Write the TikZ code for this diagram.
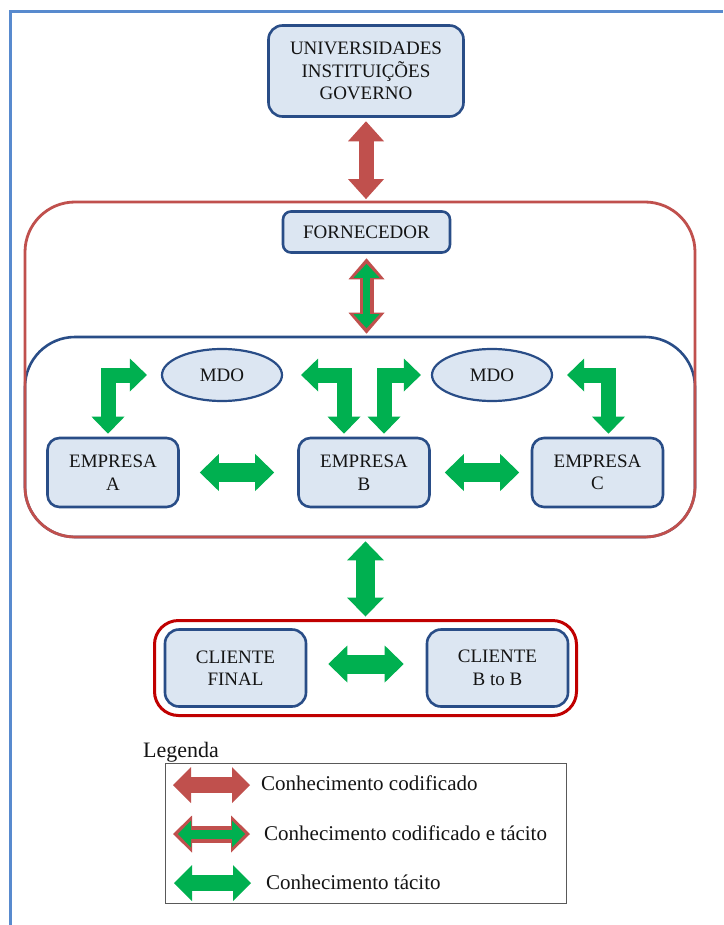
\documentclass[tikz,border=0pt]{standalone}
\usepackage{fontspec}
\setmainfont{Liberation Serif}
\usetikzlibrary{arrows.meta,shapes.geometric,calc}

\definecolor{boxfill}{RGB}{220,230,242}
\definecolor{boxline}{RGB}{41,77,135}
\definecolor{chainred}{RGB}{192,80,77}
\definecolor{clientred}{RGB}{192,0,0}
\definecolor{tacitgreen}{RGB}{0,176,80}
\definecolor{pageblue}{RGB}{88,138,206}
\definecolor{keygray}{RGB}{89,89,89}
\definecolor{inktext}{RGB}{20,20,20}

\newcommand\orgfont{\fontsize{19}{22.5}\selectfont}
\newcommand\keyfont{\fontsize{21}{24}\selectfont}

\tikzset{
  orgbox/.style={draw=boxline, line width=2.6pt, fill=boxfill, rounded corners=12pt,
    align=center, inner sep=0pt, font=\orgfont, text=inktext},
  mdobox/.style={ellipse, draw=boxline, line width=2.2pt, fill=boxfill, inner sep=0pt,
    font=\orgfont, text=inktext, minimum width=120pt, minimum height=52pt},
  % thick shaft with a triangular head at both ends
  blockarrow/.style n args={3}{line width=#1, line join=miter,
    arrows={Triangle[length=#2,width=#3,line width=0pt]-Triangle[length=#2,width=#3,line width=0pt]}},
  tacit/.style={color=tacitgreen, blockarrow={19pt}{19pt}{37pt}},
  tacitelbow/.style={color=tacitgreen, blockarrow={15pt}{17pt}{33pt}},
  coded/.style={color=chainred, blockarrow={15pt}{20pt}{36pt}},
  mixedouter/.style={color=chainred, blockarrow={14pt}{21pt}{36pt}},
  mixedinner/.style={color=tacitgreen, blockarrow={7pt}{14pt}{26pt}},
  keycoded/.style={color=chainred, blockarrow={16pt}{18pt}{36pt}},
  keytacit/.style={color=tacitgreen, blockarrow={16pt}{18pt}{36pt}},
  keymixedouter/.style={color=chainred, blockarrow={17pt}{19pt}{37pt}},
  keymixedinner/.style={color=tacitgreen, blockarrow={9pt}{13pt}{27pt}},
}

\begin{document}
\begin{tikzpicture}[x=1pt,y=-1pt]
\useasboundingbox (0,0) rectangle (723,925);
\fill[white] (0,0) rectangle (723,925);
\draw[pageblue, line width=3pt] (10.3,925) -- (10.3,11.7) -- (723,11.7);

% firm cluster (blue) sits behind the supply-chain frame (red)
\node[draw=boxline, line width=2.6pt, rounded corners=50pt, minimum width=670pt,
  minimum height=200pt, inner sep=0pt] (firms) at (360,437) {};
\node[draw=chainred, line width=2.8pt, rounded corners=50pt, minimum width=670pt,
  minimum height=335pt, inner sep=0pt] (chain) at (360,369.5) {};

\node[orgbox, minimum width=195pt, minimum height=91pt, rounded corners=14pt] (univ)
  at (366,71) {UNIVERSIDADES\\INSTITUIÇÕES\\GOVERNO};
\node[orgbox, minimum width=167pt, minimum height=41pt, rounded corners=8pt] (forn)
  at (366.5,232) {FORNECEDOR};

\node[mdobox] (mdoL) at (222,375) {MDO};
\node[mdobox] (mdoR) at (492,375) {MDO};

\node[orgbox, minimum width=131pt, minimum height=69pt] (empA) at (113,472.5) {EMPRESA\\A};
\node[orgbox, minimum width=131pt, minimum height=69pt] (empB) at (364,472.5) {EMPRESA\\B};
\node[orgbox, minimum width=131pt, minimum height=69pt] (empC) at (597.5,472.5) {EMPRESA\\C};

\node[draw=clientred, line width=3pt, rounded corners=24pt, minimum width=422pt,
  minimum height=95pt, inner sep=0pt] (clients) at (365.5,668) {};
\node[orgbox, minimum width=141pt, minimum height=77pt, rounded corners=14pt] (cfinal)
  at (235.5,668) {CLIENTE\\FINAL};
\node[orgbox, minimum width=141pt, minimum height=77pt, rounded corners=14pt] (cb2b)
  at (497.5,668) {CLIENTE\\B to B};

% knowledge flows
\draw[coded, shorten <=3.5pt, shorten >=1.5pt] (univ.south) -- (univ.south |- chain.north);
\draw[mixedouter, shorten <=4.5pt, shorten >=2pt] (forn.south) -- (forn.south |- firms.north);
\draw[mixedinner, shorten <=10pt, shorten >=7.5pt] (forn.south) -- (forn.south |- firms.north);

\draw[tacit, shorten <=20pt, shorten >=23pt] (empA.east) -- (empB.west);
\draw[tacit, shorten <=14pt, shorten >=11.5pt] (empB.east) -- (empC.west);

\draw[tacitelbow, shorten <=14pt, shorten >=3pt] (mdoL.west) -| ($(empA.north)+(-5,0)$);
\draw[tacitelbow, shorten <=18pt, shorten >=3pt] (mdoL.east) -| ($(empB.north)+(-20,0)$);
\draw[tacitelbow, shorten <=3pt, shorten >=10pt] ($(empB.north)+(20,0)$) |- (mdoR.west);
\draw[tacitelbow, shorten <=14pt, shorten >=3pt] (mdoR.east) -| ($(empC.north)+(11,0)$);

\draw[tacit, shorten <=3pt, shorten >=2.5pt] (clients.north |- chain.south) -- (clients.north);
\draw[tacit, shorten <=21pt, shorten >=22pt] ([yshift=4pt]cfinal.east) -- ([yshift=4pt]cb2b.west);

% key
\node[anchor=base west, inner sep=0pt, font=\fontsize{22}{26}\selectfont, text=inktext]
  (keytitle) at (143,757) {Legenda};
\node[draw=keygray, line width=1.3pt, minimum width=401pt, minimum height=140pt,
  inner sep=0pt] (keybox) at (366,833.5) {};

\coordinate (k1a) at (173,785);  \coordinate (k1b) at (250,785);
\coordinate (k2a) at (173,834);  \coordinate (k2b) at (250,834);
\coordinate (k3a) at (174,883);  \coordinate (k3b) at (251,883);

\draw[keycoded] (k1a) -- (k1b);
\draw[keymixedouter] (k2a) -- (k2b);
\draw[keymixedinner, shorten <=5pt, shorten >=5pt] (k2a) -- (k2b);
\draw[keytacit] (k3a) -- (k3b);

\node[anchor=base west, inner sep=0pt, font=\keyfont, text=inktext] (k1t) at (261,790)
  {Conhecimento codificado};
\node[anchor=base west, inner sep=0pt, font=\keyfont, text=inktext] (k2t) at (264,840)
  {Conhecimento codificado e tácito};
\node[anchor=base west, inner sep=0pt, font=\keyfont, text=inktext] (k3t) at (266,889)
  {Conhecimento tácito};
\end{tikzpicture}
\end{document}
